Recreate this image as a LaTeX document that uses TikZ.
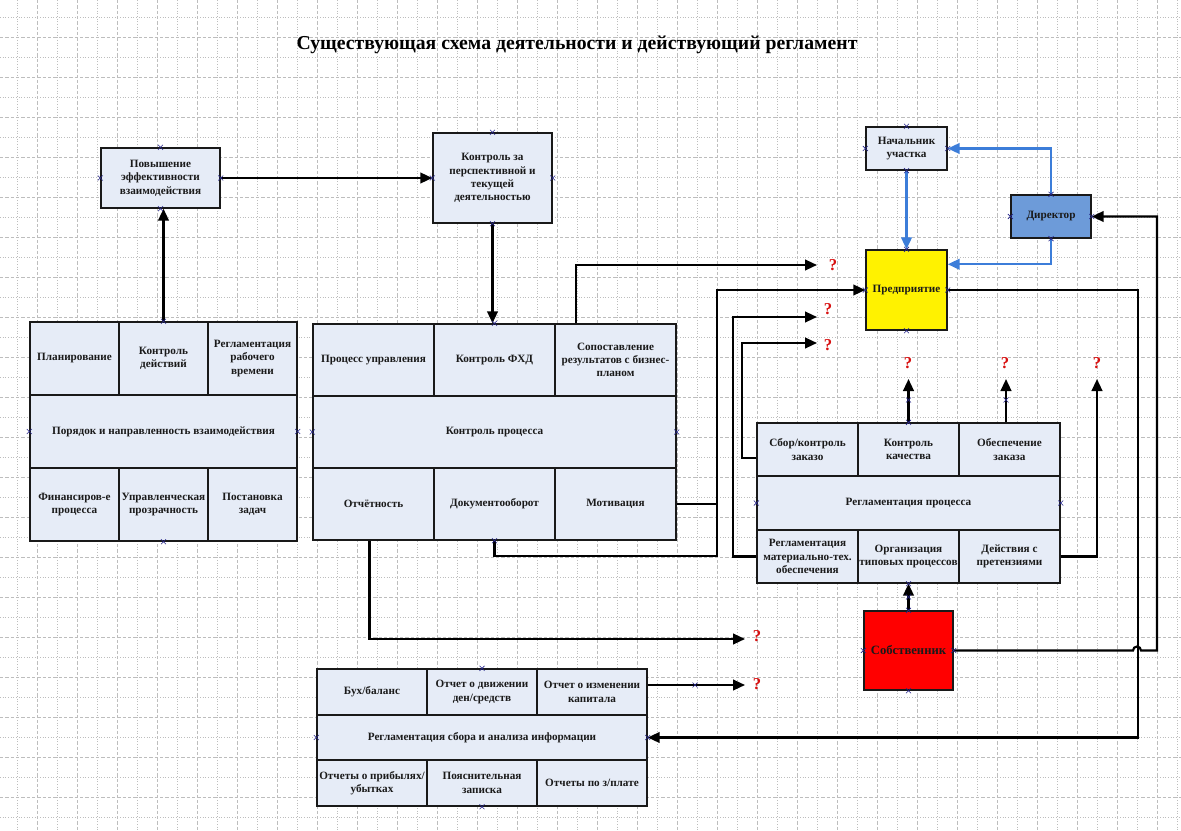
\documentclass[tikz,border=0pt]{standalone}
\usepackage{fontspec}
\setmainfont{Liberation Serif}
\usetikzlibrary{arrows.meta,calc}
\definecolor{boxfill}{HTML}{E6ECF7}
\definecolor{dirfill}{HTML}{6D9BD9}
\definecolor{bline}{HTML}{3C7DD9}
\definecolor{qred}{HTML}{D81010}
\definecolor{mkc}{HTML}{26268A}
\definecolor{gridc}{HTML}{BDBDBD}
\definecolor{txtc}{HTML}{1A1A1A}
\tikzset{
  gdot/.style={draw=gridc, line width=0.6pt, dash pattern=on 0.75pt off 1.25pt},
  gdash/.style={draw=gridc, line width=0.6pt, dash pattern=on 2.5pt off 1.5pt},
  box/.style={draw=black!90, line width=1.1pt, fill=boxfill, inner sep=1pt, align=center,
    text=txtc, font=\bfseries\fontsize{8.4}{10}\selectfont},
  sz/.style 2 args={minimum width=#1*0.75pt, minimum height=#2*0.75pt},
  conn/.style={draw=black, line width=1.6pt},
  arr/.style={conn, -{Triangle[length=9pt,width=8pt]}},
  barr/.style={draw=bline, line width=1.7pt, -{Triangle[length=9pt,width=8pt]}},
  qm/.style={text=qred, font=\bfseries\fontsize{12.5}{14}\selectfont, inner sep=0pt},
  mk/.style={draw=mkc, line width=0.5pt},
  titlestyle/.style={font=\bfseries\fontsize{14.8}{18}\selectfont, text=black}
}
\newcommand\mk[1]{\draw[mk] (#1) ++(-2.5,-2.5) -- ++(5,5) ++(-5,0) -- ++(5,-5);}
\begin{document}
\begin{tikzpicture}[x=0.75pt,y=-0.75pt]
\useasboundingbox (0,0) rectangle (1181,831);
\fill[white] (0,0) rectangle (1181,831);
% grid
\foreach \i in {0,...,58}{\pgfmathtruncatemacro\xx{17+20*\i}
  \ifodd\i \draw[gdash] (\xx,0) -- (\xx,831); \else \draw[gdot] (\xx,0) -- (\xx,831); \fi}
\foreach \i in {0,...,40}{\pgfmathtruncatemacro\yy{17+20*\i}
  \ifodd\i \draw[gdash] (0,\yy) -- (1181,\yy); \else \draw[gdot] (0,\yy) -- (1181,\yy); \fi}

\node[titlestyle] (title) at (577,45) {Существующая схема деятельности и действующий регламент};

% top boxes
\node[box,sz={119}{60}] (A) at (160.5,178) {Повышение\\эффективности\\взаимодействия};
\node[box,sz={119}{90}] (B) at (492.5,178) {Контроль за\\перспективной и\\текущей\\деятельностью};

% left block
\node[box,sz={89}{73}] (lc1) at (74.5,358.5) {Планирование};
\node[box,sz={89}{73}] (lc2) at (163.5,358.5) {Контроль\\действий};
\node[box,sz={89}{73}] (lc3) at (252.5,358.5) {Регламентация\\рабочего\\времени};
\node[box,sz={267}{73}] (lmid) at (163.5,431.5) {Порядок и направленность взаимодействия};
\node[box,sz={89}{73}] (lb1) at (74.5,504.5) {Финансиров-е\\процесса};
\node[box,sz={89}{73}] (lb2) at (163.5,504.5) {Управленческая\\прозрачность};
\node[box,sz={89}{73}] (lb3) at (252.5,504.5) {Постановка\\задач};

% middle block
\node[box,sz={121}{72}] (mt1) at (373.5,360) {Процесс управления};
\node[box,sz={121}{72}] (mt2) at (494.5,360) {Контроль ФХД};
\node[box,sz={121}{72}] (mt3) at (615.5,360) {Сопоставление\\результатов с бизнес-\\планом};
\node[box,sz={363}{72}] (mmid) at (494.5,432) {Контроль процесса};
\node[box,sz={121}{72}] (mb1) at (373.5,504) {Отчётность};
\node[box,sz={121}{72}] (mb2) at (494.5,504) {Документооборот};
\node[box,sz={121}{72}] (mb3) at (615.5,504) {Мотивация};

% right block
\node[box,sz={101}{53}] (rt1) at (807.5,449.5) {Сбор/контроль\\заказо};
\node[box,sz={101}{53}] (rt2) at (908.5,449.5) {Контроль\\качества};
\node[box,sz={101}{53}] (rt3) at (1009.5,449.5) {Обеспечение\\заказа};
\node[box,sz={303}{54}] (rmid) at (908.5,503) {Регламентация процесса};
\node[box,sz={101}{53}] (rb1) at (807.5,556.5) {Регламентация\\материально-тех.\\обеспечения};
\node[box,sz={101}{53}] (rb2) at (908.5,556.5) {Организация\\типовых процессов};
\node[box,sz={101}{53}] (rb3) at (1009.5,556.5) {Действия с\\претензиями};

% bottom block
\node[box,sz={110}{46}] (bt1) at (372,692) {Бух/баланс};
\node[box,sz={110}{46}] (bt2) at (482,692) {Отчет о движении\\ден/средств};
\node[box,sz={110}{46}] (bt3) at (592,692) {Отчет о изменении\\капитала};
\node[box,sz={330}{45}] (bmid) at (482,737.5) {Регламентация сбора и анализа информации};
\node[box,sz={110}{46}] (bb1) at (372,783) {Отчеты о прибылях/\\убытках};
\node[box,sz={110}{46}] (bb2) at (482,783) {Пояснительная\\записка};
\node[box,sz={110}{46}] (bb3) at (592,783) {Отчеты по з/плате};

% actors
\node[box,sz={81}{43}] (nach) at (906.5,148.5) {Начальник\\участка};
\node[box,sz={80}{43},fill=dirfill] (dir) at (1051,216.5) {Директор};
\node[box,sz={81}{80},fill=yellow] (pred) at (906.5,290) {Предприятие};
\node[box,sz={89}{79},fill=red] (sob) at (908.5,650.5) {\fontsize{9.5}{11}\selectfont Собственник};

% question marks
\node[qm] (q1) at (833,265) {?};
\node[qm] (q2) at (828,309) {?};
\node[qm] (q3) at (828,345) {?};
\node[qm] (q4) at (908,363) {?};
\node[qm] (q5) at (1005,363) {?};
\node[qm] (q6) at (1097,363) {?};
\node[qm] (q7) at (757,636) {?};
\node[qm] (q8) at (757,684) {?};

% connector end points
\coordinate (e1) at (817,265);
\coordinate (e2) at (817,317);
\coordinate (e3) at (817,343);
\coordinate (e4) at (908.5,379);
\coordinate (e5) at (1006,379);
\coordinate (e6) at (1097,379);
\coordinate (e7) at (745,639);
\coordinate (e8) at (745,685);
\coordinate (j1) at (717,290);

% black connectors
\draw[arr] (A.east) -- (B.west);
\draw[arr] (lc2.north) -- (lc2.north |- A.south);
\draw[arr] (B.south) -- (B.south |- mt2.north);
\draw[arr] ($(mt3.north west)+(22,0)$) |- (e1);
\draw[conn] (mb2.south) -- ++(0,15) -| (j1);
\draw[arr] (mb3.east) -| (j1) -- (pred.west);
\draw[arr] (rb1.west) -- ++(-23,0) |- (e2);
\draw[arr] ($(rt1.south west)+(0,-19)$) -- ++(-14,0) |- (e3);
\draw[arr] (rt2.north) -- (e4);
\draw[arr] (e5 |- rt3.north) -- (e5);
\draw[arr] (rb3.east) -| (e6);
\draw[arr] ($(mb1.south)+(-4,0)$) |- (e7);
\draw[arr] (e8 -| bt3.east) -- (e8);
\draw[arr] (pred.east) -- ++(190,0) |- (bmid.east);
\draw[arr] (sob.east) -- (1133,650.5) arc[start angle=180,end angle=0,radius=3pt] -- (1157,650.5) |- (dir.east);
\draw[arr] (sob.north) -- (sob.north |- rb2.south);

% blue connectors
\draw[barr] (nach.south) -- (pred.north);
\draw[barr] (dir.north) |- (nach.east);
\draw[barr] (dir.south) |- ($(pred.north east)+(0,15)$);

% connection point markers
\foreach \n in {A,B,nach,dir,pred,sob}{\mk{\n.north}\mk{\n.south}\mk{\n.east}\mk{\n.west}}
\mk{lc2.north}\mk{lb2.south}\mk{lmid.west}\mk{lmid.east}
\mk{mt2.north}\mk{mb2.south}\mk{mmid.west}\mk{mmid.east}
\mk{rt2.north}\mk{rb2.south}\mk{rmid.west}\mk{rmid.east}
\mk{bt2.north}\mk{bb2.south}\mk{bmid.west}\mk{bmid.east}
\mk{908.5,400}\mk{1006,400}\mk{908.5,597}\mk{695,685}
\end{tikzpicture}
\end{document}
